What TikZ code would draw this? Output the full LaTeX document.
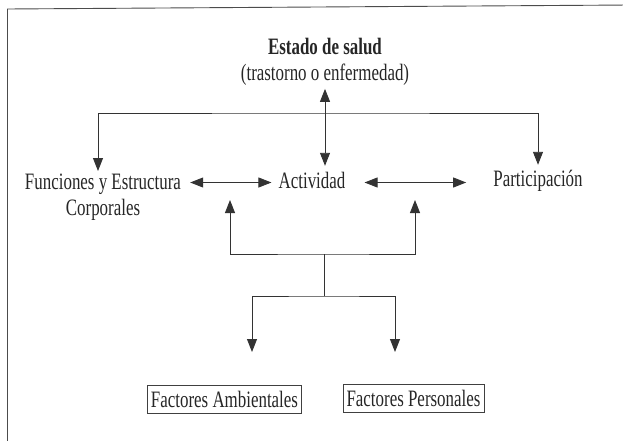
\documentclass[tikz,border=0pt]{standalone}
\usepackage{fontspec}
\setmainfont[FakeStretch=0.72]{Liberation Serif}
\usetikzlibrary{arrows.meta}
\usetikzlibrary{positioning}
\tikzstyle{lbl}=[inner sep=3pt, align=center, text=black!85, font=\fontsize{23.5}{26}\selectfont]
\tikzstyle{one}=[lbl, text height=16pt, text depth=5pt]
\tikzstyle{fbox}=[lbl, draw=black!75, line width=0.8pt, inner xsep=3.5pt, inner ysep=6pt, text height=16pt, text depth=0pt]
\tikzstyle{conn}=[draw=black!80, line width=0.9pt]

\begin{document}
\begin{tikzpicture}[x=1pt, y=-1pt, >={Triangle[width=10pt,length=13pt]}]
    \useasboundingbox (0,0) rectangle (623,441);
    %\draw [help lines, step=20] (0,0) grid (623,441);
    \draw [conn, black!70] (630,5) -- (7.5,9) -- (7.5,445);

    \node [lbl] (salud) at (325,62)    {\textbf{Estado de salud}\\(trastorno o enfermedad)};
    \node [lbl] (func)  at (103,197.5) {Funciones y Estructura\\Corporales};
    \node [one] (act)   at (312,182.5) {Actividad};
    \node [one] (part)  at (538,180.5) {Participación};
    \node [fbox] (amb)  at (224.5,399) {Factores Ambientales};
    \node [fbox] (pers) at (413.5,398) {Factores Personales};

    \coordinate (bar) at (323,113);
    \coordinate (ua)  at (230,200);
    \coordinate (ub)  at (415,200);
    \coordinate (j1)  at (324,254);
    \coordinate (j2)  at (324,296);
    \coordinate (da)  at (252,352);
    \coordinate (db)  at (395,352);

    \draw [conn, <->, shorten >=3pt] (salud.south) -- (salud.south |- act.north);
    \draw [conn, <->, shorten <=6pt, shorten >=4pt] (act.west -| func.east) -- (act.west);
    \draw [conn, <->, shorten <=16pt, shorten >=24pt] (act.east) -- (act.east -| part.west);
    \draw [conn, <->, shorten >=2pt] ([xshift=-5pt]func.north) |- (bar) -| (part.north);
    \draw [conn, <->] (ua) |- (j1) -| (ub);
    \draw [conn] (j1) -- (j2);
    \draw [conn, <->] (da) |- (j2) -| (db);

  \end{tikzpicture}
\end{document}
